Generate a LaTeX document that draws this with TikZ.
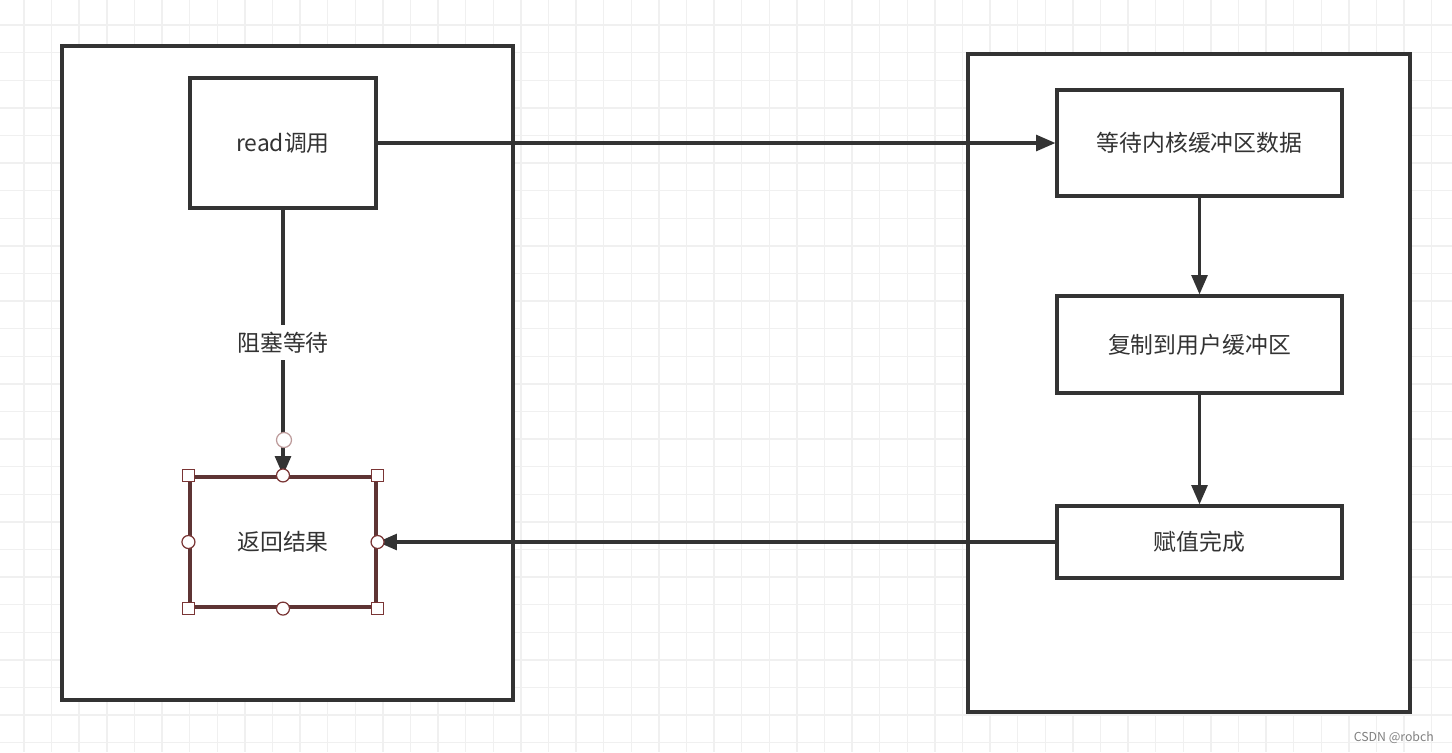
\documentclass[tikz,border=0pt]{standalone}
\usepackage{fontspec}
\setmainfont{Noto Sans CJK SC}
\usepackage{xcolor}
\usetikzlibrary{arrows.meta,calc}
\definecolor{vdarkgray}{HTML}{333333}
\definecolor{vgrid}{HTML}{F0F0F0}
\definecolor{vhandle}{HTML}{7A3535}
\tikzset{
  box/.style={draw=vdarkgray, line width=1.8pt, fill=white, text=vdarkgray},
  flow/.style={draw=vdarkgray, line width=1.8pt, -{Triangle[length=11pt,width=9pt]}},
  handle/.style={draw=vhandle, fill=white, line width=0.7pt},
}
\begin{document}
\begin{tikzpicture}[x=0.02cm, y=-0.02cm, font=\fontsize{13pt}{15pt}\selectfont]
		\useasboundingbox (0,0) rectangle (1452,752);
		\fill[white] (0,0) rectangle (1452,752);
		\foreach \i in {0,...,52} {
			\draw[color=vgrid, line width=0.8pt] ({24+27.6*\i},0) -- ({24+27.6*\i},752);
		}
		\foreach \j in {0,...,27} {
			\draw[color=vgrid, line width=0.8pt] (0,{25+27.6*\j}) -- (1452,{25+27.6*\j});
		}
		% containers
		\draw[box] (62,46) rectangle (513,700);
		\draw[box] (968,54) rectangle (1410,712);
		% left side
		\node[box, minimum width=3.72cm, minimum height=2.6cm] (read) at (283,143) {read调用};
		\node[box, draw=vhandle!60!vdarkgray, minimum width=3.72cm, minimum height=2.6cm] (ret) at (283,542) {返回结果};
		% right side
		\node[box, minimum width=5.7cm, minimum height=2.12cm] (wait) at (1199.5,143) {等待内核缓冲区数据};
		\node[box, minimum width=5.7cm, minimum height=1.94cm] (copy) at (1199.5,344.5) {复制到用户缓冲区};
		\node[box, minimum width=5.7cm, minimum height=1.44cm] (done) at (1199.5,542) {赋值完成};
		% connectors
		\draw[flow] (read.east) -- (wait.west);
		\draw[flow] (wait.south) -- (copy.north);
		\draw[flow] (copy.south) -- (done.north);
		\draw[flow] (done.west) -- (ret.east);
		\draw[flow] (read.south) -- node[fill=white, text=vdarkgray, inner sep=4pt] (blk) {阻塞等待} (ret.north);
		% selection handles
		\draw[handle, draw=vhandle!50] (284,440) circle (7.5);
		\foreach \p in {north west, north east, south west, south east} {
			\draw[handle] ($(ret.\p)+(-6,-6)$) rectangle ++(12,12);
		}
		\foreach \p in {north, south, east, west} {
			\draw[handle] (ret.\p) circle (6.5);
		}
		\node[font=\fontsize{7pt}{8pt}\selectfont, color=gray, anchor=east] (mark) at (1440,738) {CSDN @robch};
	\end{tikzpicture}
\end{document}
